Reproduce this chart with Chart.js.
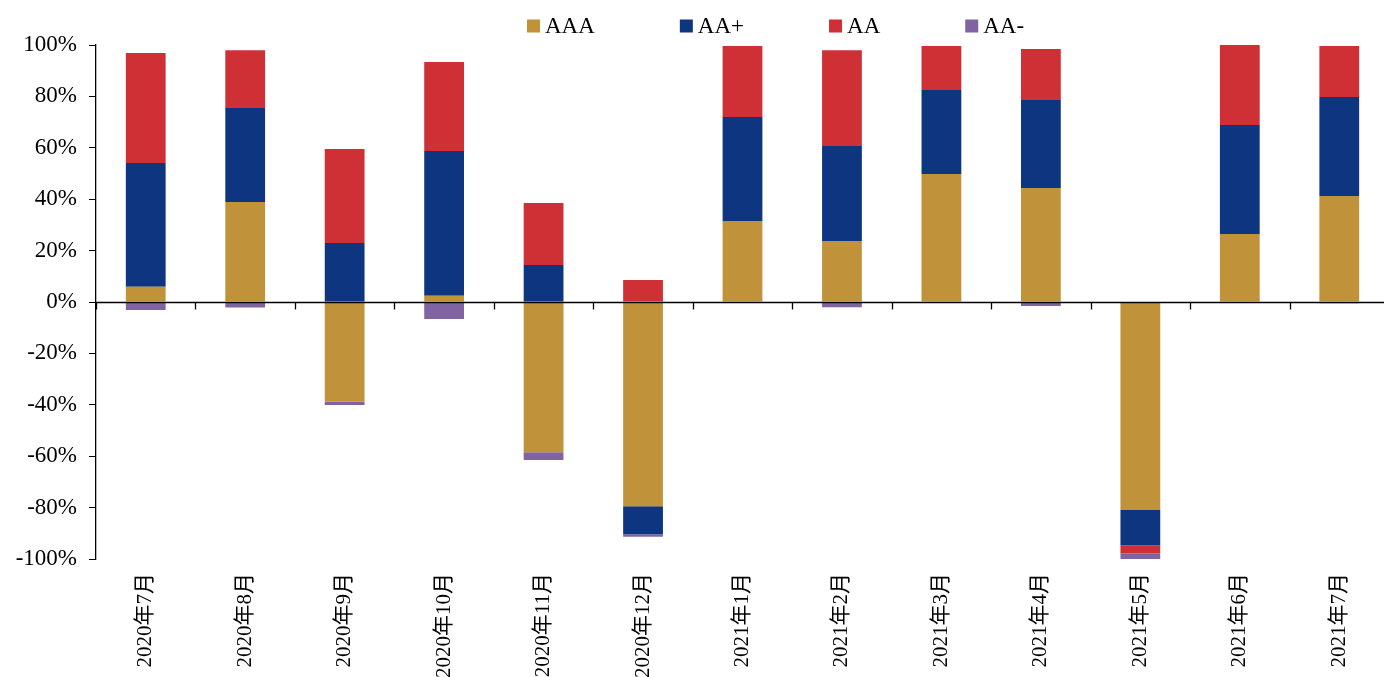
<!DOCTYPE html>
<html>
<head>
<meta charset="utf-8">
<script src="https://cdn.jsdelivr.net/npm/chart.js@4/dist/chart.umd.min.js"></script>
<style>
  html, body { margin: 0; padding: 0; background: #fff; overflow: hidden; }
  /* plot runs a few pixels past the right edge of the window */
  #wrap { width: 1389px; height: 677px; position: relative; }
</style>
</head>
<body>
<div id="wrap"><canvas id="c"></canvas></div>
<script>
// Months on the category axis
const months = ['2020年7月','2020年8月','2020年9月','2020年10月','2020年11月','2020年12月',
                '2021年1月','2021年2月','2021年3月','2021年4月','2021年5月','2021年6月','2021年7月'];

// Share by rating (%), one value per month
const aaa      = [5.9, 38.9, -38.8, 2.4, -58.5, -79.5, 31.5, 23.7, 49.8, 44.4, -80.7, 26.5, 41.2];
const aaPlus   = [48.2, 36.6, 23.0, 56.4, 14.4, -10.9, 40.5, 37.0, 32.7, 34.2, -14.0, 42.4, 38.6];
const aa       = [42.8, 22.5, 36.5, 34.6, 24.1, 8.6, 27.6, 37.3, 17.1, 19.8, -3.1, 31.1, 19.8];
const aaMinus  = [-3.1, -2.1, -1.3, -6.6, -3.0, -0.9, -0.3, -2.0, -0.3, -1.6, -2.2, 0, -0.5];

// Y axis tick values
const yTicks = [-100, -80, -60, -40, -20, 0, 20, 40, 60, 80, 100];

const serif = "'Liberation Serif', 'Times New Roman', 'Noto Sans CJK SC', serif";

// Zero baseline with category tick marks hanging below it
const zeroAxis = {
  id: 'zeroAxis',
  afterDatasetsDraw(chart) {
    const { ctx, scales: { x, y } } = chart;
    const y0 = Math.round(y.getPixelForValue(0)) + 0.5;
    const n = chart.data.labels.length;
    const step = (x.right - x.left) / n;
    ctx.save();
    ctx.strokeStyle = '#000';
    ctx.lineWidth = 1.3;
    ctx.beginPath();
    ctx.moveTo(x.left, y0);
    ctx.lineTo(x.right, y0);
    for (let i = 0; i <= n; i++) {
      const px = Math.round(x.left + i * step) + 0.5;
      ctx.moveTo(px, y0);
      ctx.lineTo(px, y0 + 7);
    }
    ctx.stroke();
    ctx.restore();
  }
};

// Single-row legend: colour square followed by the series name
const legendRow = {
  id: 'legendRow',
  afterDraw(chart, args, opts) {
    const ctx = chart.ctx;
    ctx.save();
    ctx.font = opts.font;
    ctx.textBaseline = 'middle';
    ctx.textAlign = 'left';
    let x = opts.left;
    chart.data.datasets.forEach(ds => {
      ctx.fillStyle = ds.backgroundColor;
      ctx.fillRect(x, opts.y - opts.box / 2, opts.box, opts.box);
      x += opts.box + opts.gap;
      ctx.fillStyle = '#000';
      ctx.fillText(ds.label, x, opts.y + 1);
      x += ctx.measureText(ds.label).width + opts.spacing;
    });
    ctx.restore();
  }
};

new Chart(document.getElementById('c'), {
  type: 'bar',
  data: {
    labels: months,
    datasets: [
      { label: 'AAA', data: aaa,     backgroundColor: '#C0933B' },
      { label: 'AA+', data: aaPlus,  backgroundColor: '#0E3580' },
      { label: 'AA',  data: aa,      backgroundColor: '#CF3035' },
      { label: 'AA-', data: aaMinus, backgroundColor: '#8064A2' }
    ]
  },
  options: {
    responsive: true,
    maintainAspectRatio: false,
    animation: false,
    layout: { padding: { top: 45, right: 0, left: 0, bottom: 0 } },
    datasets: {
      bar: { categoryPercentage: 1.0, barPercentage: 0.4, borderWidth: 0 }
    },
    plugins: {
      legend: { display: false },
      tooltip: { enabled: false },
      legendRow: { left: 527, y: 26, box: 13, gap: 5, spacing: 85, font: '23px ' + serif }
    },
    scales: {
      x: {
        stacked: true,
        grid: { display: false, drawTicks: false },
        border: { display: false },
        ticks: {
          color: '#000',
          font: { family: serif, size: 21 },
          maxRotation: 90,
          minRotation: 90,
          padding: 14,
          autoSkip: false
        },
        afterFit(scale) {
          scale.height = 118;
          scale.paddingLeft = 0;
          scale.paddingRight = 0;
        }
      },
      y: {
        stacked: true,
        min: -100,
        max: 100,
        afterBuildTicks(scale) {
          scale.ticks = yTicks.map(v => ({ value: v }));
        },
        grid: {
          drawOnChartArea: false,
          drawTicks: true,
          tickLength: 7,
          color: '#000',
          lineWidth: 1
        },
        border: { display: true, color: '#000', width: 1.3 },
        ticks: {
          color: '#000',
          font: { family: serif, size: 23 },
          padding: 12,
          callback: v => v + '%'
        },
        afterFit(scale) {
          scale.width = 96;
        }
      }
    }
  },
  plugins: [zeroAxis, legendRow]
});
</script>
</body>
</html>
